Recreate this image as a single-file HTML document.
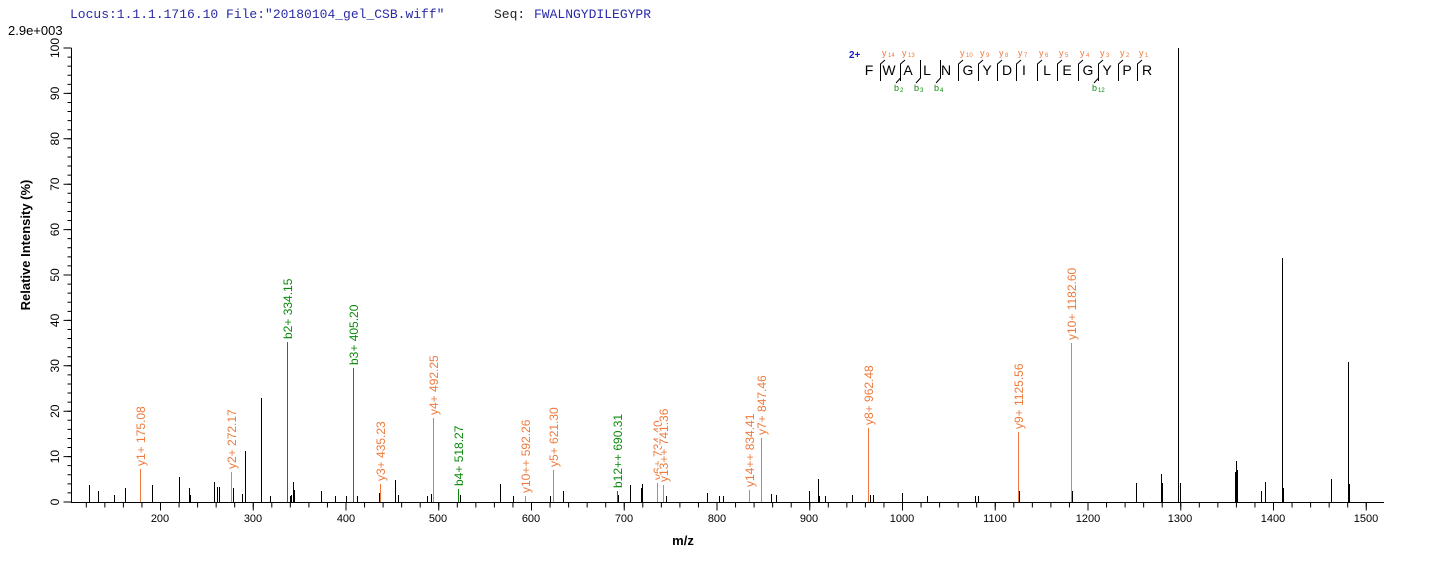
<!DOCTYPE html>
<html><head><style>
body{margin:0;background:#fff;}
svg{display:block;font-family:"Liberation Sans",Arial,sans-serif;}
</style></head><body>
<svg width="1436" height="562" viewBox="0 0 1436 562" xmlns="http://www.w3.org/2000/svg">
<text x="70" y="18" font-family="Liberation Mono, monospace" font-size="13" fill="#2a2aa8">Locus:1.1.1.1716.10 File:"20180104_gel_CSB.wiff"</text>
<text x="494" y="18" font-family="Liberation Mono, monospace" font-size="13" fill="#222">Seq:</text>
<text x="534" y="18" font-family="Liberation Mono, monospace" font-size="13" fill="#2a2aa8">FWALNGYDILEGYPR</text>
<text x="8" y="35" font-size="13" fill="#000">2.9e+003</text>
<text transform="translate(30,245) rotate(-90)" text-anchor="middle" font-size="13" font-weight="bold">Relative   Intensity (%)</text>
<text x="683" y="545" text-anchor="middle" font-size="13" font-weight="bold">m/z</text>

<g stroke="#000" fill="none">
<path d="M71.5 48 V503 M71 502.5 H1384" stroke-width="1"/>
<path d="M69.5 502.5 V46" stroke-width="4" stroke-dasharray="1 8.08"/>
<path d="M67.5 502.5 V46" stroke-width="8" stroke-dasharray="1 44.4"/>
<path d="M85.8 505 H1384" stroke-width="5" stroke-dasharray="1 17.55"/>
<path d="M160 506.5 H1384" stroke-width="8" stroke-dasharray="1 91.75"/>
</g>
<g font-size="12" text-anchor="middle">
<text transform="translate(59,502) rotate(-90)">0</text>
<text transform="translate(59,456.6) rotate(-90)">10</text>
<text transform="translate(59,411.2) rotate(-90)">20</text>
<text transform="translate(59,365.8) rotate(-90)">30</text>
<text transform="translate(59,320.4) rotate(-90)">40</text>
<text transform="translate(59,275) rotate(-90)">50</text>
<text transform="translate(59,229.6) rotate(-90)">60</text>
<text transform="translate(59,184.2) rotate(-90)">70</text>
<text transform="translate(59,138.8) rotate(-90)">80</text>
<text transform="translate(59,93.4) rotate(-90)">90</text>
<text transform="translate(59,48) rotate(-90)">100</text>
</g>
<g font-size="11" text-anchor="middle">
<text x="160" y="522">200</text><text x="253" y="522">300</text><text x="346" y="522">400</text><text x="438" y="522">500</text><text x="531" y="522">600</text><text x="624" y="522">700</text><text x="717" y="522">800</text><text x="809" y="522">900</text><text x="902" y="522">1000</text><text x="995" y="522">1100</text><text x="1088" y="522">1200</text><text x="1180" y="522">1300</text><text x="1273" y="522">1400</text><text x="1366" y="522">1500</text>
</g>

<path stroke="#000" stroke-width="1" fill="none" d="M89.5 502V485 M98.5 502V491 M114.5 502V495 M125.5 502V488 M152.5 502V485 M179.5 502V477 M189.5 502V488 M190.5 502V495 M214.5 502V482 M217.5 502V487 M219.5 502V487 M233.5 502V488 M242.5 502V494 M245.5 502V451 M261.5 502V398 M270.5 502V496 M290.5 502V496 M291.5 502V495 M293.5 502V482 M294.5 502V490 M321.5 502V491 M335.5 502V496 M346.5 502V496 M357.5 502V496 M379.5 502V493 M395.5 502V480 M398.5 502V495 M427.5 502V496 M431.5 502V494 M460.5 502V495 M500.5 502V484 M513.5 502V496 M550.5 502V496 M563.5 502V491 M618.5 502V495 M630.5 502V485 M641.5 502V488 M642.5 502V484 M666.5 502V496 M707.5 502V493 M719.5 502V496 M723.5 502V496 M771.5 502V494 M776.5 502V495 M809.5 502V491 M818.5 502V479 M819.5 502V496 M825.5 502V496 M852.5 502V495 M870.5 502V495 M873.5 502V495 M902.5 502V493 M927.5 502V496 M975.5 502V496 M978.5 502V496 M1019.5 502V491 M1072.5 502V491 M1136.5 502V483 M1161.5 502V474 M1162.5 502V483 M1178.5 502V48 M1180.5 502V483 M1235.5 502V472 M1236.5 502V461 M1237.5 502V470 M1261.5 502V491 M1265.5 502V482 M1282.5 502V258 M1283.5 502V488 M1331.5 502V479 M1348.5 502V362 M1349.5 502V484"/>

<path stroke="#ee7a3c" stroke-width="1" fill="none" d="M140.5 502V469 M231.5 502V472 M380.5 502V484 M433.5 502V418 M525.5 502V496 M553.5 502V470 M657.5 502V483 M663.5 502V485 M749.5 502V490 M761.5 502V438 M868.5 502V428 M1018.5 502V432 M1071.5 502V343"/>
<path stroke="#0a8a0a" stroke-width="1" fill="none" d="M287.5 502V342 M353.5 502V368 M458.5 502V489 M617.5 502V491"/>

<g font-size="12" fill="#ee7a3c">
<text transform="translate(145,466) rotate(-90)">y1+ 175.08</text>
<text transform="translate(236,469) rotate(-90)">y2+ 272.17</text>
<text transform="translate(385,481) rotate(-90)">y3+ 435.23</text>
<text transform="translate(438,415) rotate(-90)">y4+ 492.25</text>
<text transform="translate(530,493) rotate(-90)">y10++ 592.26</text>
<text transform="translate(558,467) rotate(-90)">y5+ 621.30</text>
<text transform="translate(662,480) rotate(-90)">y6+ 734.40</text>
<text transform="translate(668,482) rotate(-90)" stroke="#fff" stroke-width="3" style="paint-order:stroke">y13++ 741.36</text>
<text transform="translate(754,487) rotate(-90)">y14++ 834.41</text>
<text transform="translate(766,435) rotate(-90)">y7+ 847.46</text>
<text transform="translate(873,425) rotate(-90)">y8+ 962.48</text>
<text transform="translate(1023,429) rotate(-90)">y9+ 1125.56</text>
<text transform="translate(1076,340) rotate(-90)">y10+ 1182.60</text>
</g>
<g font-size="12" fill="#0a8a0a">
<text transform="translate(292,339) rotate(-90)">b2+ 334.15</text>
<text transform="translate(358,365) rotate(-90)">b3+ 405.20</text>
<text transform="translate(463,486) rotate(-90)">b4+ 518.27</text>
<text transform="translate(622,488) rotate(-90)">b12++ 690.31</text>
</g>

<text x="849" y="58" font-size="10" font-weight="bold" fill="#1a1acc">2+</text>
<g font-size="14" text-anchor="middle">
<text x="869" y="75">F</text><text x="889" y="75">W</text><text x="908" y="75">A</text><text x="927" y="75">L</text><text x="946" y="75">N</text><text x="968" y="75">G</text><text x="987" y="75">Y</text><text x="1007" y="75">D</text><text x="1024" y="75">I</text><text x="1047" y="75">L</text><text x="1067" y="75">E</text><text x="1088" y="75">G</text><text x="1107" y="75">Y</text><text x="1127" y="75">P</text><text x="1147" y="75">R</text>
</g>
<path stroke="#000" fill="none" stroke-width="1" d="M885 60 L880.5 64 V81 M905 60 L900.5 64 V81 M963 60 L958.5 64 V81 M983 60 L978.5 64 V81 M1002 60 L997.5 64 V81 M1021 60 L1016.5 64 V81 M1042 60 L1037.5 64 V81 M1062 60 L1057.5 64 V81 M1083 60 L1078.5 64 V81 M1103 60 L1098.5 64 V81 M1123 60 L1118.5 64 V81 M1142 60 L1137.5 64 V81 M900.5 78 L896 83 M920.5 60 V78 L916 83 M940.5 60 V78 L936 83 M1098.5 78 L1094 83"/>
<g fill="#ee7a3c">
<text x="882" y="56" font-size="9">y</text><text x="888" y="57" font-size="6">14</text>
<text x="902" y="56" font-size="9">y</text><text x="908" y="57" font-size="6">13</text>
<text x="960" y="56" font-size="9">y</text><text x="966" y="57" font-size="6">10</text>
<text x="980" y="56" font-size="9">y</text><text x="986" y="57" font-size="6">9</text>
<text x="999" y="56" font-size="9">y</text><text x="1005" y="57" font-size="6">8</text>
<text x="1018" y="56" font-size="9">y</text><text x="1024" y="57" font-size="6">7</text>
<text x="1039" y="56" font-size="9">y</text><text x="1045" y="57" font-size="6">6</text>
<text x="1059" y="56" font-size="9">y</text><text x="1065" y="57" font-size="6">5</text>
<text x="1080" y="56" font-size="9">y</text><text x="1086" y="57" font-size="6">4</text>
<text x="1100" y="56" font-size="9">y</text><text x="1106" y="57" font-size="6">3</text>
<text x="1120" y="56" font-size="9">y</text><text x="1126" y="57" font-size="6">2</text>
<text x="1139" y="56" font-size="9">y</text><text x="1145" y="57" font-size="6">1</text>
</g>
<g fill="#0a8a0a">
<text x="894" y="91" font-size="9">b</text><text x="900" y="92" font-size="6">2</text>
<text x="914" y="91" font-size="9">b</text><text x="920" y="92" font-size="6">3</text>
<text x="934" y="91" font-size="9">b</text><text x="940" y="92" font-size="6">4</text>
<text x="1092" y="91" font-size="9">b</text><text x="1098" y="92" font-size="6">12</text>
</g>
</svg>
</body></html>
